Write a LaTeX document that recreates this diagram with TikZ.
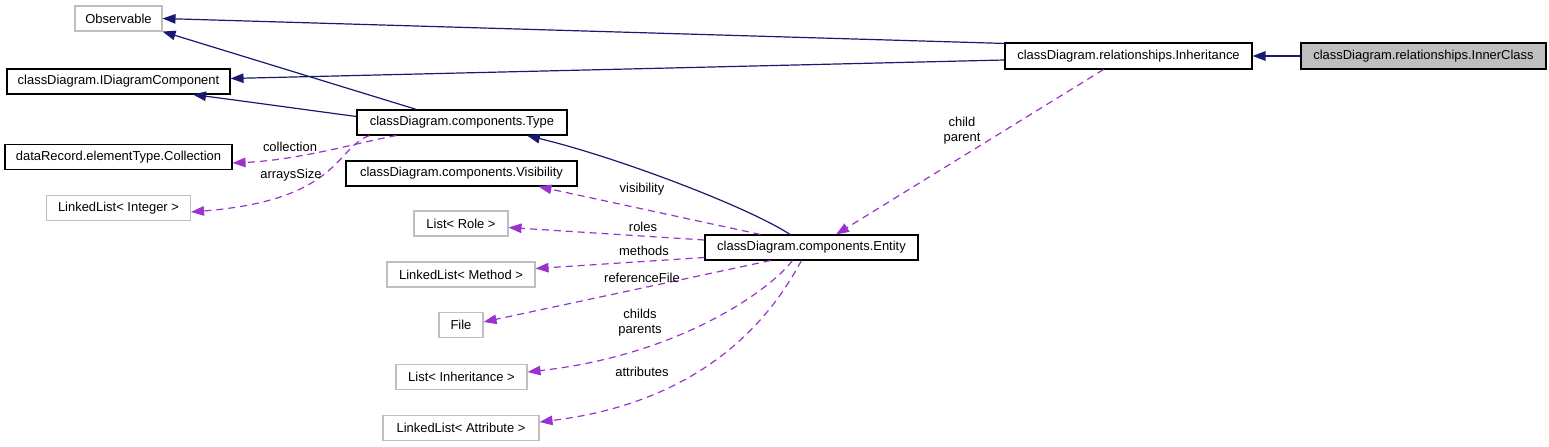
\documentclass[tikz,border=0pt]{standalone}
\usepackage{fontspec}
\setmainfont{Liberation Sans}
\usetikzlibrary{arrows.meta,calc}
\definecolor{navy}{HTML}{191970}
\definecolor{usepurple}{HTML}{9A32CD}
\definecolor{boxgray}{HTML}{BFBFBF}
\tikzset{
  cls/.style={draw=black, line width=1.1bp, minimum height=25bp, inner sep=0pt, font=\fontsize{13}{15}\selectfont},
  ext/.style={cls, draw=boxgray},
  focus/.style={cls, fill=boxgray, draw=black},
  inh/.style={draw=navy, line width=1.2bp, -{Triangle[length=13bp,width=9.5bp]}},
  use/.style={draw=usepurple, line width=1.2bp, dash pattern=on 7bp off 5bp, -{Triangle[length=13bp,width=9.5bp]}},
  lbl/.style={inner sep=0pt, align=center, font=\fontsize{13}{15}\selectfont}
}
\begin{document}
\begin{tikzpicture}[x=1bp,y=-1bp]
\useasboundingbox (0,0) rectangle (1549,447);
% nodes
\node[ext, minimum width=87bp]  (obs) at (118.5,18.5) {Observable};
\node[cls, minimum width=223bp] (idc) at (118.5,81.5) {classDiagram.IDiagramComponent};
\node[cls, minimum width=227bp] (col) at (118.5,157) {dataRecord.elementType.Collection};
\node[ext, minimum width=144bp] (lli) at (118.5,208) {LinkedList< Integer >};
\node[cls, minimum width=210bp] (typ) at (462,122.5) {classDiagram.components.Type};
\node[cls, minimum width=231bp] (vis) at (461.5,173.5) {classDiagram.components.Visibility};
\node[ext, minimum width=94bp]  (rol) at (461,223.5) {List< Role >};
\node[ext, minimum width=148bp] (llm) at (461,274.5) {LinkedList< Method >};
\node[ext, minimum width=44bp]  (fil) at (461,325) {File};
\node[ext, minimum width=131bp] (lin) at (461.5,377) {List< Inheritance >};
\node[ext, minimum width=156bp] (lla) at (461,428) {LinkedList< Attribute >};
\node[cls, minimum width=213bp] (ent) at (811.5,247.5) {classDiagram.components.Entity};
\node[cls, minimum width=247bp, minimum height=26bp] (ihr) at (1128.5,56) {classDiagram.relationships.Inheritance};
\node[focus, minimum width=245bp, minimum height=26bp] (inn) at (1423.5,56) {classDiagram.relationships.InnerClass};
% inheritance edges
\draw[inh] (inn.west) -- (ihr.east);
\draw[inh] ($(ihr.north west)+(0,1)$) -- (obs.east);
\draw[inh] ($(ihr.west)+(0,4)$) -- ($(idc.east)+(0,-3)$);
\draw[inh] ($(typ.north west)+(60,0)$) -- (obs.south east);
\draw[inh] ($(typ.west)+(0,-6)$) .. controls (300,109) and (250,102) .. ($(idc.south)+(74.5,0)$);
\draw[inh] ($(ent.north)+(-21.5,0)$) .. controls (750,208) and (620,158) .. ($(typ.south)+(65,0)$);
% usage edges
\draw[use] ($(typ.south west)+(40,0)$) .. controls (360,142) and (300,160) .. ($(col.east)+(0,6)$);
\node[lbl] (lcol) at (290,147) {collection};
\draw[use] ($(typ.south west)+(13,0)$) .. controls (335,148) and (340,200) .. ($(lli.east)+(0,4)$);
\node[lbl] (lli-l) at (291,175) {arraysSize};
\draw[use] ($(ent.north west)+(56,0)$) -- ($(vis.south)+(77,0)$);
\node[lbl] (lvis) at (642,189) {visibility};
\draw[use] ($(ent.west)+(0,-7.5)$) -- ($(rol.east)+(0,4)$);
\node[lbl] (lrol) at (643,227) {roles};
\draw[use] ($(ent.west)+(0,10)$) -- ($(llm.east)+(0,-6)$);
\node[lbl] (lllm) at (644,251) {methods};
\draw[use] ($(ent.south west)+(66,0)$) -- ($(fil.east)+(0,-3)$);
\node[lbl] (lfil) at (642,278) {referenceFile};
\draw[use] ($(ent.south west)+(88,0)$) .. controls (770,290) and (680,355) .. ($(lin.east)+(0,-5)$);
\node[lbl] (llin) at (640,322.5) {childs\\parents};
\draw[use] ($(ent.south west)+(97,0)$) .. controls (780,300) and (720,400) .. ($(lla.east)+(0,-6)$);
\node[lbl] (llla) at (642,372) {attributes};
\draw[use] ($(ihr.south west)+(99,0)$) -- ($(ent.north)+(24.5,0)$);
\node[lbl] (lihr) at (962,130.5) {child\\parent};
\end{tikzpicture}
\end{document}
